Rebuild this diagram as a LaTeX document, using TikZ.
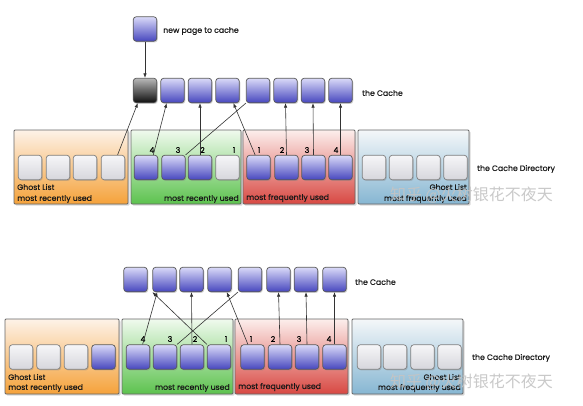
\documentclass[tikz,border=0pt]{standalone}
\usepackage{fontspec}
\setmainfont{Poppins}
\newfontfamily\lblfont{Poppins}[FakeBold=0.35]
\newfontfamily\cjk{Noto Sans CJK SC}
\usetikzlibrary{shadows,arrows.meta}
\definecolor{pgTop}{HTML}{DADAF8}
\definecolor{pgBot}{HTML}{4646BE}
\definecolor{ghTop}{HTML}{F6F6F8}
\definecolor{ghBot}{HTML}{D6D6DC}
\definecolor{bkTop}{HTML}{B8B8B8}
\definecolor{bkBot}{HTML}{0E0E0E}
\definecolor{orTop}{HTML}{FDF2E8}
\definecolor{orBot}{HTML}{F5A23A}
\definecolor{grTop}{HTML}{F0FAEE}
\definecolor{grBot}{HTML}{5CC24E}
\definecolor{rdTop}{HTML}{FCEEEC}
\definecolor{rdBot}{HTML}{D84842}
\definecolor{blTop}{HTML}{F4F7F9}
\definecolor{blBot}{HTML}{86B6D2}
\definecolor{wmGray}{HTML}{C4C4C4}
\begin{document}
\begin{tikzpicture}[x=1pt,y=-1pt,
  pg/.style={draw=black!65, line width=0.7pt, rounded corners=3pt,
    minimum width=23.5pt, minimum height=24.5pt, inner sep=0pt,
    top color=pgTop, bottom color=pgBot,
    drop shadow={opacity=0.35, shadow xshift=1pt, shadow yshift=-1.2pt}},
  gh/.style={pg, top color=ghTop, bottom color=ghBot, draw=black!50},
  bk/.style={pg, top color=bkTop, bottom color=bkBot},
  dir/.style={draw=black!60, line width=0.9pt, rounded corners=1pt, inner sep=0pt,
    drop shadow={opacity=0.3, shadow xshift=1.5pt, shadow yshift=-1.5pt}},
  lnk/.style={draw=black!80, line width=0.6pt},
  arr/.style={lnk, -{Latex[length=4.5pt,width=3.4pt]}},
  num/.style={font=\lblfont\fontsize{7.8}{8}\selectfont, inner sep=0pt},
  txt/.style={font=\lblfont\fontsize{7.8}{9}\selectfont, inner sep=0pt, text=black!90},
  wm/.style={font=\cjk\fontsize{16}{18}\selectfont, text=wmGray, opacity=0.9,
    inner sep=0pt},
]
\useasboundingbox (0,0) rectangle (583,405);
\fill[white] (0,0) rectangle (583,405);

% ================= TOP SCENE =================
\node[pg] (new) at (145,29) {};
\node[txt, anchor=west] (newl) at (163,31) {new page to cache};

\node[bk] (c1) at (145,90.5) {};
\foreach \i/\x in {2/172.5,3/200,4/227.5,5/258,6/285.5,7/313,8/340.5}
  \node[pg] (c\i) at (\x,90.5) {};
\node[txt, anchor=west] (cl) at (362,93) {the Cache};

\node[dir, minimum width=114pt, minimum height=74pt, top color=orTop, bottom color=orBot] (to) at (71,167) {};
\node[dir, minimum width=110pt, minimum height=74pt, top color=grTop, bottom color=grBot] (tgn) at (186,167) {};
\node[dir, minimum width=112pt, minimum height=74pt, top color=rdTop, bottom color=rdBot] (trd) at (299,167) {};
\node[dir, minimum width=111pt, minimum height=74pt, top color=blTop, bottom color=blBot] (tbl) at (413.5,167) {};

\foreach \i/\x in {1/30,2/58,3/85,4/113}
  \node[gh] (tg\i) at (\x,167.5) {};
\foreach \i/\x in {1/146,2/173.5,3/200}
  \node[pg] (tr\i) at (\x,167.5) {};
\node[gh] (tr4) at (227.5,167.5) {};
\foreach \i/\x in {1/258.5,2/286.5,3/313.5,4/340.5}
  \node[pg] (tf\i) at (\x,167.5) {};
\foreach \i/\x in {1/374,2/401,3/428.5,4/455.5}
  \node[gh] (tb\i) at (\x,167.5) {};

\node[num] (tn1) at (152,150) {4};
\node[num] (tn2) at (178,150) {3};
\node[num] (tn3) at (202.5,150) {2};
\node[num] (tn4) at (234,150) {1};
\node[num] (tn5) at (259,150) {1};
\node[num] (tn6) at (282,150) {2};
\node[num] (tn7) at (307,150) {3};
\node[num] (tn8) at (336,150) {4};

\node[txt, anchor=west] (tgl) at (17,187) {Ghost List};
\node[txt, anchor=west] (tgm) at (17,199) {most recently used};
\node[txt, anchor=east] (trm) at (239,199) {most recently used};
\node[txt, anchor=west] (tfm) at (246,198) {most frequently used};
\node[txt, anchor=east] (tbl1) at (467,187) {Ghost List};
\node[txt, anchor=east] (tbl2) at (467,199) {most frequently used};
\node[txt, anchor=west] (tdl) at (477,169) {the Cache Directory};

\draw[arr] (new) -- (c1);
\draw[arr] (tg4.70) -- (c1.240);
\draw[arr] (tr1.60) -- (c2.245);
\draw[arr] (tr3.north) -- (c3.south);
\draw[lnk] (tr2.north east) -- (c5.south west);
\draw[arr] (tf1.105) -- (c4.295);
\draw[arr] (tf2.north) -- (c6.south);
\draw[arr] (tf3.north) -- (c7.south);
\draw[arr] (tf4.north) -- (c8.south);

% ================= BOTTOM SCENE =================
\foreach \i/\x in {1/135.5,2/164.5,3/191.5,4/219.5,5/250,6/278.5,7/306,8/334.5}
  \node[pg] (d\i) at (\x,279.5) {};
\node[txt, anchor=west] (dl) at (355,282) {the Cache};

\node[dir, minimum width=114pt, minimum height=75pt, top color=orTop, bottom color=orBot] (bo) at (62,356.5) {};
\node[dir, minimum width=111pt, minimum height=75pt, top color=grTop, bottom color=grBot] (bgn) at (177.5,356.5) {};
\node[dir, minimum width=113pt, minimum height=75pt, top color=rdTop, bottom color=rdBot] (brd) at (291.5,356.5) {};
\node[dir, minimum width=111pt, minimum height=75pt, top color=blTop, bottom color=blBot] (bbl) at (407.5,356.5) {};

\foreach \i/\x in {1/21,2/48.5,3/76}
  \node[gh] (bg\i) at (\x,357) {};
\node[pg] (bg4) at (103.5,357) {};
\foreach \i/\x in {1/138,2/165,3/192,4/219}
  \node[pg] (br\i) at (\x,357) {};
\foreach \i/\x in {1/252.5,2/280,3/307,4/334.5}
  \node[pg] (bf\i) at (\x,357) {};
\foreach \i/\x in {1/369,2/395,3/422.5,4/449.5}
  \node[gh] (bb\i) at (\x,357) {};

\node[num] (bn1) at (143,339) {4};
\node[num] (bn2) at (170,339) {3};
\node[num] (bn3) at (195,339) {2};
\node[num] (bn4) at (226,339) {1};
\node[num] (bn5) at (251,339) {1};
\node[num] (bn6) at (273,339) {2};
\node[num] (bn7) at (299,339) {3};
\node[num] (bn8) at (329,339) {4};

\node[txt, anchor=west] (bgl) at (8,377) {Ghost List};
\node[txt, anchor=west] (bgm) at (8,388) {most recently used};
\node[txt, anchor=east] (brm) at (230,388) {most recently used};
\node[txt, anchor=west] (bfm) at (238,387) {most frequently used};
\node[txt, anchor=east] (bbl1) at (461,377) {Ghost List};
\node[txt, anchor=east] (bbl2) at (461,388) {most frequently used};
\node[txt, anchor=west] (bdl) at (472,358) {the Cache Directory};

\draw[arr] (br1.70) -- (d2.240);
\draw[arr] (br4.north west) -- (d2.south west);
\draw[arr] (br3.north) -- (d3.south);
\draw[lnk] (br2.north east) -- (d5.south west);
\draw[arr] (bf1.110) -- (d4.300);
\draw[arr] (bf2.north) -- (d6.south);
\draw[arr] (bf3.north) -- (d7.south);
\draw[arr] (bf4.north) -- (d8.south);

% ================= WATERMARKS =================
\node[wm] (wm1) at (471.5,195.5) {知乎 @火树银花不夜天};
\node[wm] (wm2) at (471.5,382.5) {知乎 @火树银花不夜天};
\end{tikzpicture}
\end{document}
